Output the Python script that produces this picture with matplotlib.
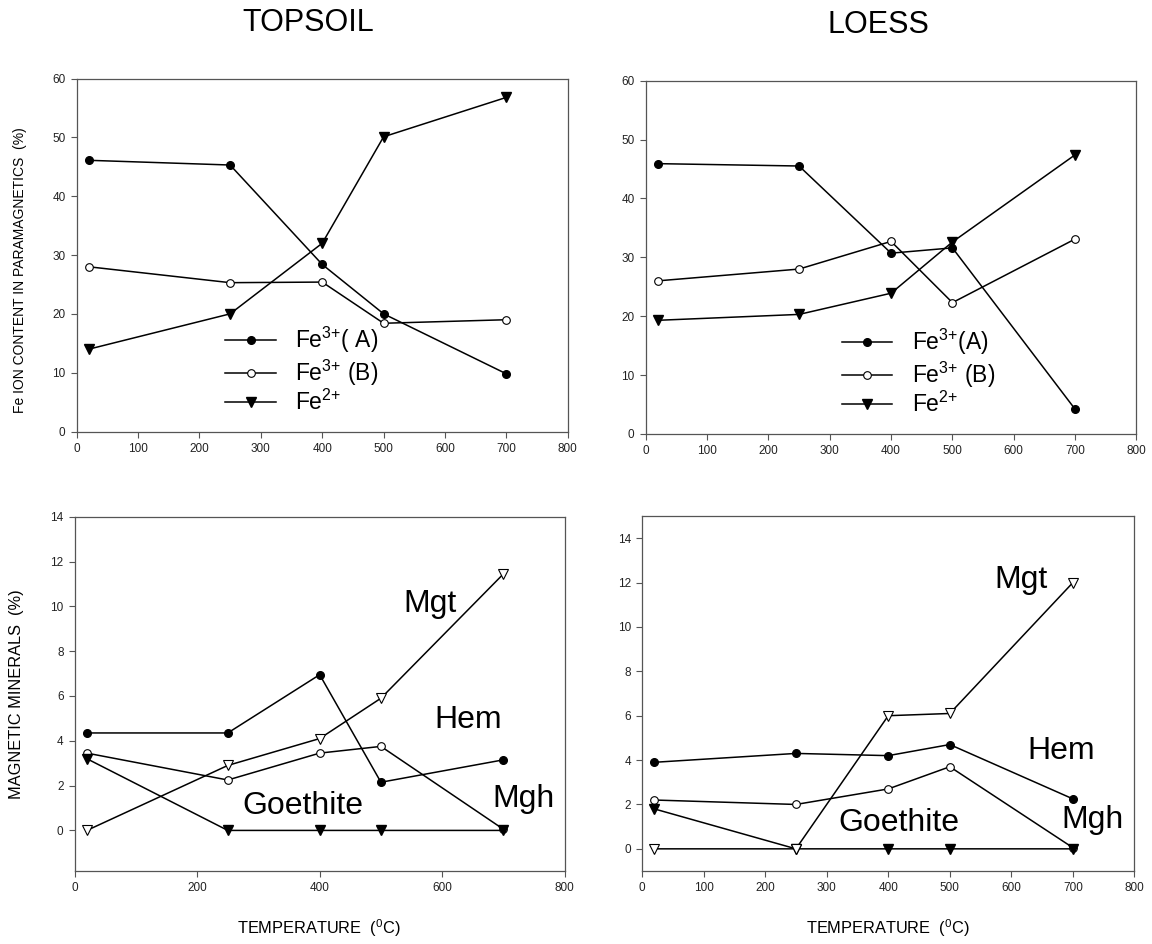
import matplotlib
matplotlib.use("Agg")
import matplotlib.pyplot as plt

plt.rcParams['font.family'] = ['Liberation Sans', 'DejaVu Sans']
plt.rcParams['mathtext.default'] = 'regular'

# temperatures (deg C)
temp = [20, 250, 400, 500, 700]

# Fe ion content in paramagnetics (%)
top_fe3a = [46.1, 45.3, 28.4, 20.0, 9.8]
top_fe3b = [28.0, 25.3, 25.4, 18.4, 19.0]
top_fe2 = [14.0, 20.0, 32.0, 50.1, 56.8]
loess_fe3a = [45.9, 45.5, 30.7, 31.6, 4.2]
loess_fe3b = [26.0, 28.0, 32.7, 22.3, 33.1]
loess_fe2 = [19.3, 20.3, 23.9, 32.6, 47.4]

# magnetic minerals (%)
top_hem = [4.35, 4.35, 6.95, 2.15, 3.15]
top_mgh = [3.45, 2.25, 3.45, 3.75, 0.05]
top_mgt = [0.0, 2.9, 4.1, 5.9, 11.45]
top_goe = [3.2, 0.0, 0.0, 0.0, 0.0]
loess_hem = [3.9, 4.3, 4.2, 4.7, 2.25]
loess_mgh = [2.2, 2.0, 2.7, 3.7, 0.05]
loess_mgt = [0.0, 0.0, 6.0, 6.1, 12.0]
loess_goe = [1.8, 0.0, 0.0, 0.0, 0.0]

fe_labels_top = ['Fe$^{3{+}}$( A)', 'Fe$^{3{+}}$ (B)', 'Fe$^{2{+}}$']
fe_labels_loess = ['Fe$^{3{+}}$(A)', 'Fe$^{3{+}}$ (B)', 'Fe$^{2{+}}$']

fig = plt.figure(figsize=(11.52, 9.44), dpi=100)
ax1 = fig.add_axes([0.0665, 0.5429, 0.4264, 0.3739])
ax2 = fig.add_axes([0.5605, 0.5403, 0.4260, 0.3743])
ax3 = fig.add_axes([0.0648, 0.0776, 0.4254, 0.3750])
ax4 = fig.add_axes([0.5573, 0.0773, 0.4275, 0.3761])

lw = 1.1
filled_c = dict(marker='o', color='black', mfc='black', mec='black', ms=5.5, lw=lw)
open_c = dict(marker='o', color='black', mfc='white', mec='black', ms=5.5, mew=0.8, lw=lw)
filled_t = dict(marker='v', color='black', mfc='black', mec='black', ms=6.5, lw=lw)
open_t = dict(marker='v', color='black', mfc='white', mec='black', ms=6.5, mew=0.8, lw=lw)

axis_grey = '#555555'


def style(ax, xticks, ylim, yticks):
    ax.set_xlim(0, 800)
    ax.set_xticks(xticks)
    ax.set_ylim(*ylim)
    ax.set_yticks(yticks)
    ax.tick_params(direction='out', length=4, width=0.8, labelsize=8.5, pad=4,
                   color=axis_grey, labelcolor='#222222')
    for s in ax.spines.values():
        s.set_linewidth(0.9)
        s.set_color(axis_grey)


# top panels
for ax, a, b, c, labs, anchor in [
        (ax1, top_fe3a, top_fe3b, top_fe2, fe_labels_top, (0.303, 0.174)),
        (ax2, loess_fe3a, loess_fe3b, loess_fe2, fe_labels_loess, (0.40, 0.175))]:
    h1, = ax.plot(temp, a, **filled_c)
    h2, = ax.plot(temp, b, **open_c)
    h3, = ax.plot(temp, c, **filled_t)
    style(ax, range(0, 801, 100), (0, 60), range(0, 61, 10))
    ax.legend([h1, h2, h3], labs, loc='center left', bbox_to_anchor=anchor,
              frameon=False, fontsize=16.5, handlelength=2.2, handletextpad=0.85,
              labelspacing=0.1, borderpad=0, borderaxespad=0)

# bottom panels
ax3.plot(temp, top_hem, **filled_c)
ax3.plot(temp, top_mgh, **open_c)
ax3.plot(temp, top_goe, **filled_t)
ax3.plot(temp, top_mgt, **open_t)
style(ax3, range(0, 801, 200), (-1.8, 14), range(0, 15, 2))

ax4.plot(temp, loess_hem, **filled_c)
ax4.plot(temp, loess_mgh, **open_c)
ax4.plot(temp, loess_goe, **filled_t)
ax4.plot(temp, loess_mgt, **open_t)
style(ax4, range(0, 801, 100), (-1, 15), range(0, 15, 2))

for ax, pos in [(ax3, [(580, 10.1), (643, 4.95), (373, 1.1), (732, 1.4)]),
                (ax4, [(616, 12.1), (681, 4.4), (418, 1.15), (732, 1.3)])]:
    for name, (x, y) in zip(['Mgt', 'Hem', 'Goethite', 'Mgh'], pos):
        ax.text(x, y, name, fontsize=23, ha='center', va='center')

# titles and axis labels
fig.text(308 / 1152, 1 - 23 / 944, 'TOPSOIL', fontsize=22, ha='center', va='center')
fig.text(878 / 1152, 1 - 25 / 944, 'LOESS', fontsize=22, ha='center', va='center')
fig.text(20 / 1152, 1 - 270 / 944, 'Fe ION CONTENT IN PARAMAGNETICS  (%)',
         fontsize=10, rotation=90, ha='center', va='center')
fig.text(17 / 1152, 1 - 694 / 944, 'MAGNETIC MINERALS  (%)',
         fontsize=11.8, rotation=90, ha='center', va='center')
fig.text(319 / 1152, 1 - 928 / 944, 'TEMPERATURE  ($^0$C)', fontsize=11.8, ha='center', va='center')
fig.text(888 / 1152, 1 - 928 / 944, 'TEMPERATURE  ($^0$C)', fontsize=11.8, ha='center', va='center')

fig.savefig('out.png', dpi=100)
